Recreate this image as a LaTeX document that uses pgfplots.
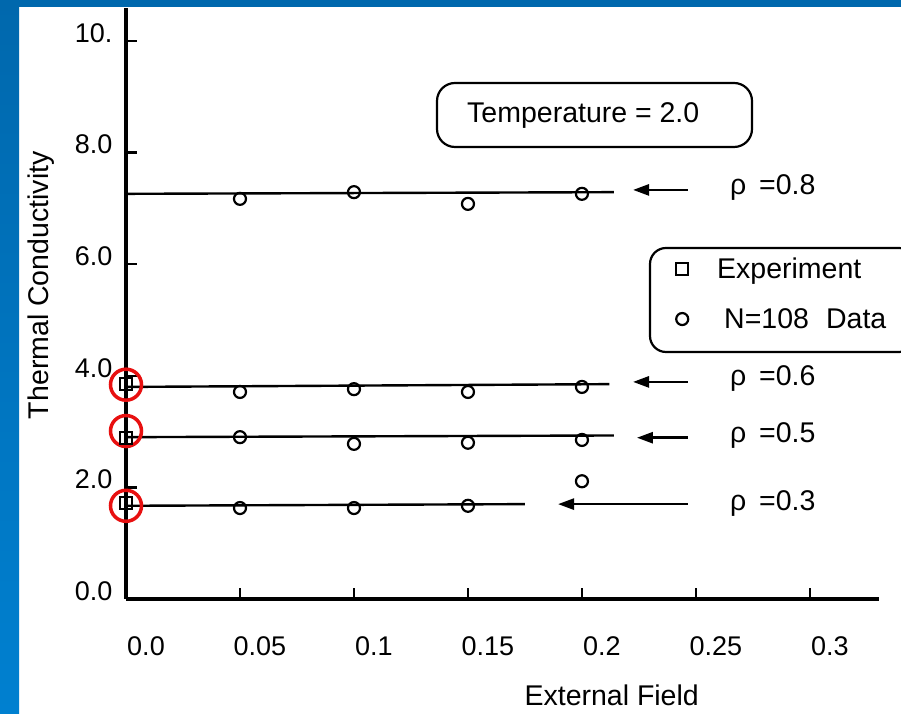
\documentclass[border=0pt]{standalone}
\usepackage{fontspec}
\setmainfont{Liberation Sans}
\usepackage{pgfplots}
\pgfplotsset{compat=1.18}
\usetikzlibrary{arrows.meta}
\definecolor{slideblue}{RGB}{0,104,173}
\definecolor{slideblueb}{RGB}{0,128,208}
\definecolor{ringred}{RGB}{232,16,16}
\newcommand\bigf{\fontsize{27}{32}\selectfont}
\newcommand\wordf{\fontsize{28.5}{34}\selectfont}
\begin{document}
\begin{tikzpicture}[x=1pt,y=1pt]
\useasboundingbox (0,0) rectangle (901,714);
\fill[white] (0,0) rectangle (901,714);
\fill[top color=slideblue,bottom color=slideblueb] (0,0) rectangle (19,714);
\fill[slideblue] (0,707) rectangle (901,714);
% boxes
\draw[line width=2.2pt, rounded corners=18pt] (437,567) rectangle (752,631);
\node[anchor=base west, font=\wordf, inner sep=0pt] at (467,591) {Temperature = 2.0};
\draw[line width=2.2pt, rounded corners=16pt] (650,362) rectangle (915,466);
\begin{axis}[
  at={(126pt,115pt)}, anchor=south west,
  scale only axis, width=753pt, height=591pt,
  xmin=0, xmax=0.3303, ymin=0, ymax=10.59,
  axis lines=left, axis line style={-, line width=3.2pt},
  tick align=inside, major tick length=11pt,
  every tick/.style={black, line width=2.4pt},
  xtick={0,0.05,0.1,0.15,0.2,0.25,0.3},
  xticklabels={0.0,0.05,0.1,0.15,0.2,0.25,0.3},
  ytick={0,2,4,6,8,10},
  yticklabels={0.0,2.0,4.0,6.0,8.0,10.},
  scaled ticks=false,
  xticklabel style={font=\bigf, anchor=north, xshift=20pt, yshift=-34pt},
  yticklabel style={font=\bigf, anchor=east, xshift=-10pt, yshift=8pt},
  xlabel={External Field}, ylabel={Thermal Conductivity},
  xlabel style={font=\wordf, inner sep=0pt, at={(axis description cs:0.645,0)}, anchor=base, yshift=-106pt},
  ylabel style={font=\wordf, at={(axis description cs:-0.113,0.531)}, anchor=center},
  clip=false,
  legend cell align=left,
  legend style={at={(axis description cs:0.6959,0.5939)}, anchor=north west,
    draw=none, fill=none, font=\wordf, inner xsep=26pt, inner ysep=8pt,
    row sep=24pt, column sep=27pt},
]
% fitted lines
\addplot[line width=2.4pt, forget plot] coordinates {(0,7.26) (0.214,7.29)};
\addplot[line width=2.4pt, forget plot] coordinates {(0,3.80) (0.212,3.85)};
\addplot[line width=2.4pt, forget plot] coordinates {(0,2.90) (0.214,2.93)};
\addplot[line width=2.4pt, forget plot] coordinates {(0,1.67) (0.175,1.70)};
% data
\addplot[only marks, mark=square, mark size=6pt, line width=2.2pt]
  coordinates {(0,3.85) (0,2.89) (0,1.72)};
\addlegendentry{Experiment}
\addplot[only marks, mark=o, mark size=6pt, line width=2.2pt]
  coordinates {(0.05,7.17) (0.1,7.29) (0.15,7.08) (0.2,7.26)
               (0.05,3.71) (0.1,3.76) (0.15,3.71) (0.2,3.80)
               (0.05,2.90) (0.1,2.78) (0.15,2.80) (0.2,2.85) (0.2,2.11)
               (0.05,1.63) (0.1,1.63) (0.15,1.67)};
\addlegendentry{\hspace{7pt}N=108\hspace{0.6em}Data}
% arrows
\draw[line width=2.6pt, -{Triangle[length=16pt,width=11pt]}] (axis cs:0.2465,7.33) -- (axis cs:0.2224,7.33);
\draw[line width=2.6pt, -{Triangle[length=16pt,width=11pt]}] (axis cs:0.2465,3.89) -- (axis cs:0.2224,3.89);
\draw[line width=2.6pt, -{Triangle[length=16pt,width=11pt]}] (axis cs:0.2465,2.89) -- (axis cs:0.2241,2.89);
\draw[line width=2.6pt, -{Triangle[length=16pt,width=11pt]}] (axis cs:0.2465,1.70) -- (axis cs:0.1895,1.70);
% labels
\node[anchor=base west, font=\wordf, inner sep=0pt] at (axis cs:0.2649,7.24) {ρ\hspace{0.45em}=0.8};
\node[anchor=base west, font=\wordf, inner sep=0pt] at (axis cs:0.2649,3.82) {ρ\hspace{0.45em}=0.6};
\node[anchor=base west, font=\wordf, inner sep=0pt] at (axis cs:0.2649,2.80) {ρ\hspace{0.45em}=0.5};
\node[anchor=base west, font=\wordf, inner sep=0pt] at (axis cs:0.2649,1.59) {ρ\hspace{0.45em}=0.3};
% red rings
\draw[ringred, line width=3.5pt] (axis cs:0,3.84) circle[radius=15.5pt];
\draw[ringred, line width=3.5pt] (axis cs:0,3.01) circle[radius=15.5pt];
\draw[ringred, line width=3.5pt] (axis cs:0,1.67) circle[radius=15.5pt];
\end{axis}
\end{tikzpicture}
\end{document}
